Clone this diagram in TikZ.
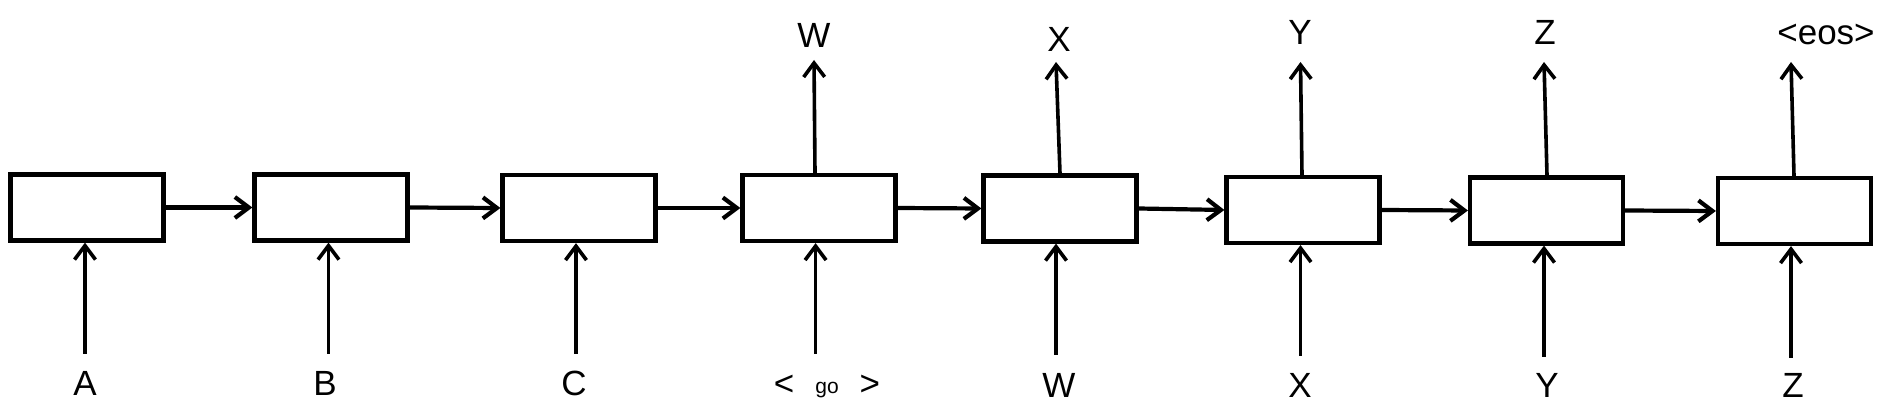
\documentclass[tikz,border=0pt]{standalone}
\usepackage{fontspec}
\setmainfont{Liberation Sans}
\usetikzlibrary{arrows.meta}
\begin{document}
\begin{tikzpicture}[x=0.5pt,y=-0.5pt,
  cell/.style={draw=black,line width=2.1pt,fill=white,minimum width=76.5pt,minimum height=33pt,inner sep=0pt},
  arr/.style={line width=1.8pt,-{Straight Barb[length=7pt,width=10.5pt,line width=1.8pt]}},
  harr/.style={line width=2.1pt,-{Straight Barb[length=7pt,width=10.5pt,line width=2.1pt]}},
  lab/.style={font=\fontsize{17.5pt}{20pt}\selectfont,inner sep=0pt,anchor=base}]
\useasboundingbox[fill=white] (0,0) rectangle (1884,416);
% cells
\node[cell] (b1) at (87,207.5) {};
\node[cell] (b2) at (331,207.5) {};
\node[cell] (b3) at (579,208) {};
\node[cell] (b4) at (819,208) {};
\node[cell] (b5) at (1060,208.5) {};
\node[cell] (b6) at (1303,210) {};
\node[cell] (b7) at (1546.5,210.5) {};
\node[cell] (b8) at (1794.5,211) {};
% horizontal connectors
\foreach \a/\b in {b1/b2,b2/b3,b3/b4,b4/b5,b5/b6,b6/b7,b7/b8}
  \draw[harr] (\a.east) -- (\b.west);
% bottom labels
\node[lab] (iA) at (85,396) {A};
\node[lab] (iB) at (325,396) {B};
\node[lab] (iC) at (574,396) {C};
\node[lab] (iG) at (827,396) {<\hspace{10.5pt}\raisebox{1.5pt}{\fontsize{10.5pt}{12pt}\selectfont go}\hspace{10.5pt}>};
\node[lab] (iW) at (1059,398) {W};
\node[lab] (iX) at (1300,398) {X};
\node[lab] (iY) at (1547,398) {Y};
\node[lab] (iZ) at (1793,398) {Z};
% bottom arrow starts
\coordinate (s1) at (85,354);
\coordinate (s2) at (328.5,354);
\coordinate (s3) at (576,354);
\coordinate (s4) at (815.6,354);
\coordinate (s5) at (1056,355);
\coordinate (s6) at (1300.5,356);
\coordinate (s7) at (1544,357);
\coordinate (s8) at (1791,358);
\foreach \i in {1,...,8}
  \draw[arr] (s\i) -- (s\i |- b\i.south);
% top labels
\node[lab] (oW) at (814,48) {W};
\node[lab] (oX) at (1059,52) {X};
\node[lab] (oY) at (1300,45) {Y};
\node[lab] (oZ) at (1545,45) {Z};
\node[lab] (oE) at (1826,45) {<eos>};
% top arrows
\coordinate (t4) at (814,60);
\coordinate (t5) at (1056,62);
\coordinate (t6) at (1300.5,62);
\coordinate (t7) at (1544,62);
\coordinate (t8) at (1791,62);
\draw[arr] (b4.north -| 815,0) -- (t4);
\draw[arr] (b5.north -| 1060,0) -- (t5);
\draw[arr] (b6.north -| 1302,0) -- (t6);
\draw[arr] (b7.north -| 1547,0) -- (t7);
\draw[arr] (b8.north -| 1794,0) -- (t8);
\end{tikzpicture}
\end{document}
